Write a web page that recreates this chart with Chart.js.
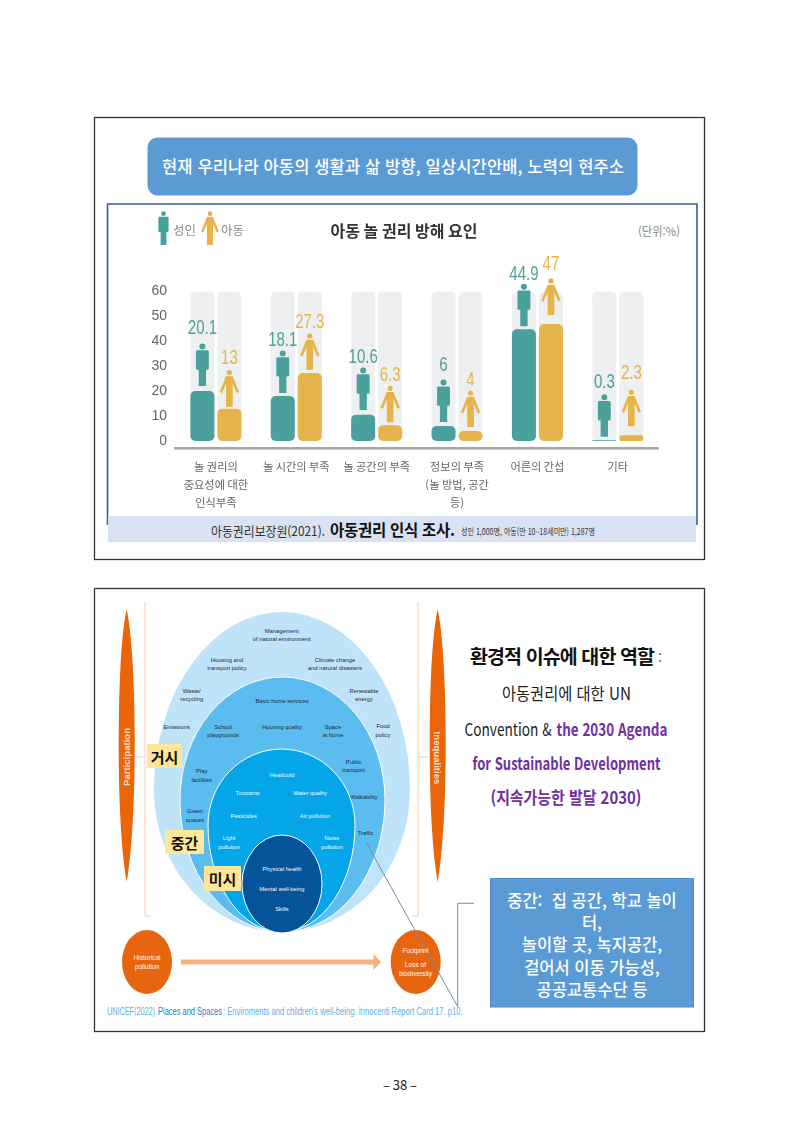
<!DOCTYPE html>
<html lang="ko">
<head>
<meta charset="utf-8">
<title>아동 놀 권리 방해 요인</title>
<script src="https://cdn.jsdelivr.net/npm/chart.js@4"></script>
<style>
    html, body { margin: 0; padding: 0; background: #fff; }
    #page { position: relative; width: 800px; height: 1132px; overflow: hidden; }
    #page svg { position: absolute; left: 0; top: 0; }
    #playChart { position: absolute; left: 108px; top: 205px; }
    text { dominant-baseline: central; text-anchor: middle; font-family: "Noto Sans CJK KR", sans-serif; }
    .en { font-family: "Liberation Sans", sans-serif; font-size: 5.8px; }
    .latin { font-family: "Liberation Sans", sans-serif; }
    .dark { fill: #23282d; }
    .light { fill: #f2fbff; }
    .start { text-anchor: start; }
</style>
</head>
<body>
<div id="page">
<svg width="800" height="1132" viewBox="0 0 800 1132" id="sheet">
    <!-- slide frames -->
    <rect x="94.5" y="117.5" width="610" height="442" fill="none" stroke="#333" stroke-width="1.3"/>
    <rect x="94.5" y="588.5" width="610" height="443" fill="none" stroke="#333" stroke-width="1.3"/>

    <!-- header of the top slide -->
    <rect x="147.5" y="137.5" width="490" height="58" rx="10" fill="#5b9bd5"/>
    <text x="393" y="166" fill="#fff" font-size="16.5" font-weight="500" textLength="462" lengthAdjust="spacing">현재 우리나라 아동의 생활과 삶 방향, 일상시간안배, 노력의 현주소</text>

    <!-- chart frame and source band -->
    <path d="M107.5 525V204H697V525" fill="none" stroke="#3a5a9f" stroke-width="1.6"/>
    <rect x="108" y="516" width="588" height="26" fill="#d9e2f3"/>
    <text x="211" y="530" class="start" fill="#333" font-size="13" textLength="114" lengthAdjust="spacingAndGlyphs">아동권리보장원(2021).</text>
    <text x="330" y="529" class="start" fill="#111" font-size="15.5" font-weight="700" textLength="125" lengthAdjust="spacing">아동권리 인식 조사.</text>
    <text x="461" y="531" class="start" fill="#333" font-size="9" textLength="134" lengthAdjust="spacingAndGlyphs">성인 1,000명, 아동(만 10~18세미만) 1,287명</text>
    <text x="659" y="230" fill="#888" font-size="12" textLength="42" lengthAdjust="spacingAndGlyphs">(단위:%)</text>

    <!-- nested environment diagram -->
    <path d="M145 602V916H151M135 757H145" fill="none" stroke="#f8cdb0" stroke-width="1"/>
    <path d="M418 602V916H412M428 757H418" fill="none" stroke="#f8cdb0" stroke-width="1"/>
    <path d="M154 790A128 178 0 0 1 410 790A128 142 0 0 1 154 790Z" fill="#bfe3f8"/>
    <path d="M180 800A102.5 123 0 0 1 385 800A102.5 132 0 0 1 180 800Z" fill="#5bbcef" stroke="#fff"/>
    <path d="M208 825A73.5 76 0 0 1 355 825A73.5 107 0 0 1 208 825Z" fill="#05a6e8" stroke="#fff"/>
    <ellipse cx="282" cy="884" rx="40" ry="49" fill="#05549a" stroke="#fff"/>

    <path d="M126.7 609C120 640 118.7 700 118.7 745C118.7 800 121 850 126.7 882C132 850 134.7 800 134.7 745C134.7 700 133 640 126.7 609Z" fill="#ea6508"/>
    <path d="M437.7 609C431 640 429.7 700 429.7 745C429.7 800 432 850 437.7 882C443 850 445.7 800 445.7 745C445.7 700 444 640 437.7 609Z" fill="#ea6508"/>
    <text transform="translate(126.7 757) rotate(-90)" class="latin" fill="#fbdcc6" font-size="9.6" font-weight="700">Participation</text>
    <text transform="translate(437.7 758) rotate(90)" class="latin" fill="#fbdcc6" font-size="9.6" font-weight="700">Inequalities</text>

    <ellipse cx="147" cy="962" rx="25" ry="32" fill="#e8650f"/>
    <ellipse cx="415.7" cy="962" rx="25" ry="32" fill="#e8650f"/>
    <path d="M181 959.5H373.5V954L381 962L373.5 970V964.5H181Z" fill="#f4b183"/>

    <!-- callout leader -->
    <path d="M365.7 841.7L457.7 1006.7V903.3H474" fill="none" stroke="#6f8fb8" stroke-width="1"/>

    <!-- level tags -->
    <rect x="147" y="744" width="35" height="24" fill="#ffe699"/>
    <text x="164.5" y="756" fill="#111" font-size="15" font-weight="700">거시</text>
    <rect x="165" y="830" width="39" height="24" fill="#ffe699"/>
    <text x="184.5" y="842" fill="#111" font-size="15" font-weight="700">중간</text>
    <rect x="204" y="866" width="37" height="25" fill="#ffe699"/>
    <text x="222.5" y="878.5" fill="#111" font-size="15" font-weight="700">미시</text>

    <text x="107" y="1010.5" class="start latin" font-size="11" fill="#56b4e6" textLength="50" lengthAdjust="spacingAndGlyphs">UNICEF(2022).</text>
    <text x="158" y="1010.5" class="start latin" font-size="11" fill="#1f7fc4" textLength="64" lengthAdjust="spacingAndGlyphs">Places and Spaces</text>
    <text x="223" y="1010.5" class="start latin" font-size="11" fill="#56b4e6" textLength="239.5" lengthAdjust="spacingAndGlyphs">: Enviroments and children's well-being.  Innocenti Report Card 17. p10.</text>

    <!-- role text beside the diagram -->
    <text x="562.5" y="655.5" fill="#111" font-size="19.5" font-weight="700" textLength="185" lengthAdjust="spacing">환경적 이슈에 대한 역할</text>
    <text x="660" y="657" fill="#333" font-size="13">:</text>
    <text x="566.5" y="692" fill="#222" font-size="17" textLength="129" lengthAdjust="spacingAndGlyphs">아동권리에 대한 UN</text>
    <text x="464.5" y="728" class="start" fill="#222" font-size="17" textLength="87" lengthAdjust="spacingAndGlyphs">Convention &amp;</text>
    <text x="556.5" y="728" class="start" fill="#7030a0" font-size="17" font-weight="700" textLength="111" lengthAdjust="spacingAndGlyphs">the 2030 Agenda</text>
    <text x="566.5" y="762" fill="#7030a0" font-size="17" font-weight="700" textLength="188" lengthAdjust="spacingAndGlyphs">for Sustainable Development</text>
    <text x="566" y="796.5" fill="#7030a0" font-size="17" font-weight="700" textLength="151" lengthAdjust="spacingAndGlyphs">(지속가능한 발달 2030)</text>

    <rect x="490.5" y="878.5" width="203" height="128.5" fill="#5b9bd5" stroke="#4f8cc4"/>
    <g fill="#fff" font-size="16.5" font-weight="500">
        <text x="592" y="899.5" style="white-space:pre">중간:  집 공간, 학교 놀이</text>
        <text x="592" y="921.5">터,</text>
        <text x="592" y="943.5">놀이할 곳, 녹지공간,</text>
        <text x="592" y="966.5">걸어서 이동 가능성,</text>
        <text x="592" y="989">공공교통수단 등</text>
    </g>

    <text x="400" y="1084" fill="#222" font-size="13">– 38 –</text>
</svg>
<canvas id="playChart" width="589" height="315"></canvas>
</div>

<script>
    const categories = [
        ['놀 권리의', '중요성에 대한', '인식부족'],
        '놀 시간의 부족',
        '놀 공간의 부족',
        ['정보의 부족', '(놀 방법, 공간', '등)'],
        '어른의 간섭',
        '기타'
    ];
    const adultValues = [20.1, 18.1, 10.6, 6, 44.9, 0.3];
    const childValues = [13, 27.3, 6.3, 4, 47, 2.3];
    const trackValues = [60, 60, 60, 60, 60, 60];
    const yTicks = [0, 10, 20, 30, 40, 50, 60];

    const TEAL = '#4aa19b';
    const AMBER = '#e5b44a';
    const TRACK = '#eeeff1';
    const LATIN = '"Liberation Sans", sans-serif';
    const KOREAN = '"Noto Sans CJK KR", sans-serif';

    // pictograms in a 100 unit tall box, x = 0 on the centre line
    const adultFigure = new Path2D('M7 8A7 7 0 1 1-7 8A7 7 0 1 1 7 8ZM-12 17H12Q15 17 15 20V59Q15 62 12 62H8.5V100H-8.5V62H-12Q-15 62-15 59V20Q-15 17-12 17Z');
    const childFigure = new Path2D('M7 8A7 7 0 1 1-7 8A7 7 0 1 1 7 8ZM-9 18H9L26 60 20 64 9 38V100H-9V38L-20 64-26 60Z');

    // how far each pictogram floats over its bar, and its label over the head
    const figureStyle = {
        1: { path: adultFigure, height: 43, color: TEAL, lift: [5, 3, 4.6, 4, 3, 3.5], labelGap: [14, 9, 10, 14, 9, 11] },
        3: { path: childFigure, height: 37, color: AMBER, lift: [2, 3, 3, 4, 9, 9], labelGap: [11, 11, 10, 10, 13, 16] }
    };

    function drawFigure(ctx, path, x, top, height, color) {
        ctx.save();
        ctx.translate(x, top);
        ctx.scale(height / 100, height / 100);
        ctx.fillStyle = color;
        ctx.fill(path);
        ctx.restore();
    }

    const figuresPlugin = {
        id: 'figures',
        afterDatasetsDraw(chart) {
            const { ctx } = chart;
            ctx.save();
            ctx.font = '20px ' + LATIN;
            ctx.textAlign = 'center';
            ctx.textBaseline = 'middle';
            for (const index of [1, 3]) {
                const style = figureStyle[index];
                const values = chart.data.datasets[index].data;
                chart.getDatasetMeta(index).data.forEach((bar, i) => {
                    const top = bar.y - style.lift[i] - style.height;
                    drawFigure(ctx, style.path, bar.x, top, style.height, style.color);
                    // the value labels are set in a condensed cut
                    ctx.save();
                    ctx.translate(bar.x, top - style.labelGap[i]);
                    ctx.scale(0.75, 1);
                    ctx.fillStyle = style.color;
                    ctx.fillText(String(values[i]), 0, 0);
                    ctx.restore();
                });
            }
            ctx.restore();
        }
    };

    // legend sits left of the title, with the same pictograms as the chart
    const figureLegendPlugin = {
        id: 'figureLegend',
        afterDraw(chart) {
            const { ctx } = chart;
            ctx.save();
            drawFigure(ctx, adultFigure, 55.5, 6, 34, TEAL);
            drawFigure(ctx, childFigure, 102, 6, 34, AMBER);
            ctx.fillStyle = '#888';
            ctx.font = '12.5px ' + KOREAN;
            ctx.textBaseline = 'middle';
            ctx.fillText(chart.data.datasets[1].label, 65, 25);
            ctx.fillText(chart.data.datasets[3].label, 113, 25);
            ctx.restore();
        }
    };

    new Chart(document.getElementById('playChart'), {
        type: 'bar',
        data: {
            labels: categories,
            datasets: [
                { label: '성인 기준', data: trackValues, stack: 'adult', order: 2, backgroundColor: TRACK },
                { label: '성인', data: adultValues, stack: 'adult', order: 1, backgroundColor: TEAL },
                { label: '아동 기준', data: trackValues, stack: 'child', order: 2, backgroundColor: TRACK },
                { label: '아동', data: childValues, stack: 'child', order: 1, backgroundColor: AMBER }
            ]
        },
        plugins: [figuresPlugin, figureLegendPlugin],
        options: {
            responsive: false,
            animation: false,
            layout: { padding: { left: 42, right: 39 } },
            datasets: {
                bar: {
                    base: 0,
                    categoryPercentage: 0.672,
                    barPercentage: 0.889,
                    borderRadius: 5,
                    borderSkipped: false
                }
            },
            plugins: {
                legend: { display: false },
                tooltip: { enabled: false },
                title: {
                    display: true,
                    text: '아동 놀 권리 방해 요인',
                    color: '#333',
                    font: { family: KOREAN, size: 16, weight: '700' },
                    padding: { top: 16.4, bottom: 51 }
                }
            },
            scales: {
                x: {
                    grid: { display: false, drawTicks: false },
                    border: { color: '#a6a6a6', width: 2.5 },
                    ticks: {
                        color: '#666',
                        autoSkip: false,
                        maxRotation: 0,
                        padding: 10,
                        font: { family: KOREAN, size: 11.2, lineHeight: 1.6 }
                    },
                    afterFit(scale) { scale.height = 72; }
                },
                y: {
                    // the axis line sits a little below the zero of the bars
                    min: -2.8,
                    max: 60,
                    stacked: false,
                    grid: { display: false, drawTicks: false },
                    border: { display: false },
                    ticks: {
                        color: '#666',
                        padding: 8.7,
                        font: { family: LATIN, size: 14 }
                    },
                    afterBuildTicks(scale) { scale.ticks = yTicks.map(value => ({ value })); },
                    afterFit(scale) { scale.width = 25.7; }
                }
            }
        }
    });

    // small labels of the diagram: text lines, centre x, centre y, tone, size
    const diagramLabels = [
        [['Management', 'of natural environment'], 281.7, 635, 'dark'],
        [['Housing and', 'transport policy'], 227, 664, 'dark'],
        [['Climate change', 'and natural disasters'], 335, 664, 'dark'],
        [['Waste/', 'recycling'], 191.7, 695, 'dark'],
        [['Renewable', 'energy'], 364, 695, 'dark'],
        [['Emissions'], 176.7, 726.7, 'dark'],
        [['Basic home services'], 282, 701, 'dark'],
        [['School', 'playgrounds'], 223, 731, 'dark'],
        [['Housing quality'], 282, 727, 'dark'],
        [['Space', 'at home'], 333, 731, 'dark'],
        [['Food', 'policy'], 383, 730.7, 'dark'],
        [['Play', 'facilities'], 201.7, 775.7, 'dark'],
        [['Public', 'transport'], 353.7, 766, 'dark'],
        [['Walkability'], 364, 796.7, 'dark'],
        [['Green', 'spaces'], 195, 815.7, 'dark'],
        [['Traffic'], 365.7, 833, 'dark'],
        [['Heat/cold'], 282, 775, 'light'],
        [['Toxicants'], 247.7, 793, 'light'],
        [['Water quality'], 310, 793, 'light'],
        [['Pesticides'], 243.7, 816, 'light'],
        [['Air pollution'], 315, 816, 'light'],
        [['Light', 'pollution'], 229, 842.7, 'light'],
        [['Noise', 'pollution'], 332, 842.7, 'light'],
        [['Physical health'], 282, 868.7, 'light'],
        [['Mental well-being'], 282, 889, 'light'],
        [['Skills'], 282, 908.7, 'light'],
        [['Historical', 'pollution'], 147, 962, 'light', 6.6],
        [['Footprint'], 415.5, 950, 'light', 6.6],
        [['Loss of', 'biodiversity'], 415.5, 969, 'light', 6.6]
    ];

    const sheet = document.getElementById('sheet');
    for (const [lines, x, y, tone, size] of diagramLabels) {
        lines.forEach((line, i) => {
            const label = document.createElementNS('http://www.w3.org/2000/svg', 'text');
            label.setAttribute('x', x);
            label.setAttribute('y', y + (i - (lines.length - 1) / 2) * (size ? 9.4 : 8.6));
            label.setAttribute('class', 'en ' + tone);
            if (size) label.style.fontSize = size + 'px';
            label.textContent = line;
            sheet.appendChild(label);
        });
    }
</script>
</body>
</html>
